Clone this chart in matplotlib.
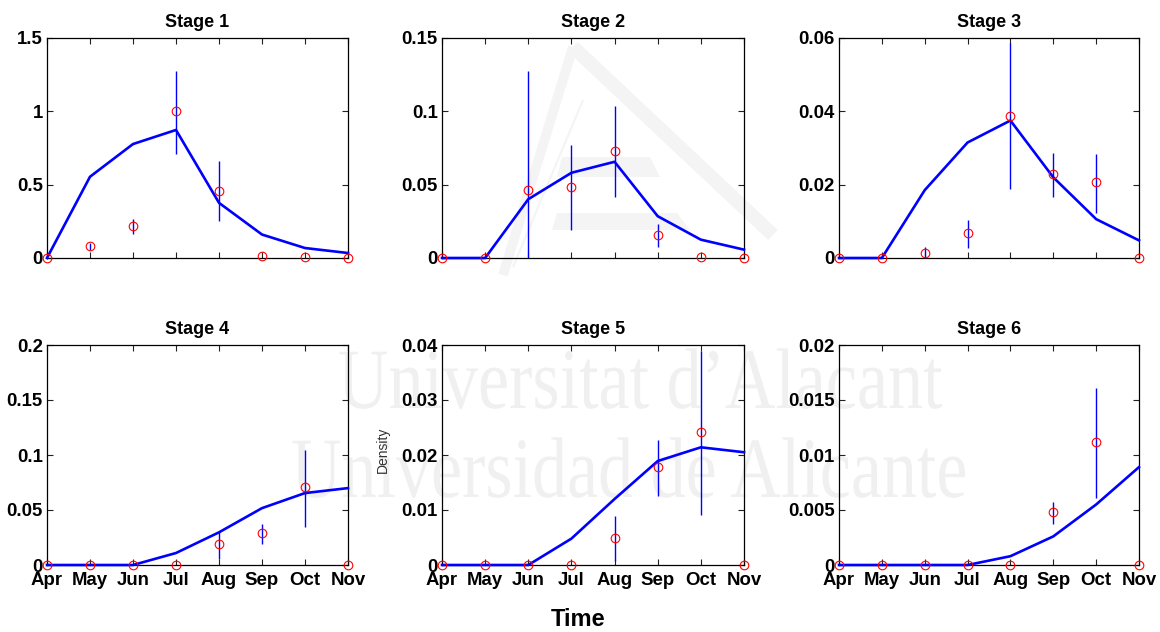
import numpy as np
import matplotlib
matplotlib.use("Agg")
import matplotlib.pyplot as plt
from matplotlib.textpath import TextPath
from matplotlib.patches import PathPatch, Polygon
from matplotlib.font_manager import FontProperties
from matplotlib.transforms import Affine2D
from matplotlib.lines import Line2D
from matplotlib.ticker import FormatStrFormatter

nan = np.nan
months = ["Apr", "May", "Jun", "Jul", "Aug", "Sep", "Oct", "Nov"]

stage1_model = [0, 0.554, 0.777, 0.873, 0.376, 0.160, 0.068, 0.034]
stage1_obs = [0, 0.08, 0.219, 1.0, 0.46, 0.011, 0.005, 0]
stage1_lo = [nan, 0.055, 0.166, 0.709, 0.253, nan, nan, nan]
stage1_hi = [nan, 0.100, 0.269, 1.277, 0.661, nan, nan, nan]

stage2_model = [0, 0, 0.0401, 0.0581, 0.0656, 0.0285, 0.0125, 0.0057]
stage2_obs = [0, 0, 0.0467, 0.0483, 0.0729, 0.016, 0.001, 0]
stage2_lo = [nan, nan, 0.0, 0.0189, 0.0417, 0.0075, nan, nan]
stage2_hi = [nan, nan, 0.1277, 0.0768, 0.1037, 0.023, nan, nan]

stage3_model = [0, 0, 0.0185, 0.0315, 0.0375, 0.022, 0.0106, 0.0048]
stage3_obs = [0, 0, 0.0013, 0.0067, 0.0388, 0.023, 0.0207, 0]
stage3_lo = [nan, nan, 0.0003, 0.0026, 0.0187, 0.0167, 0.0124, nan]
stage3_hi = [nan, nan, 0.0030, 0.0103, 0.0586, 0.0287, 0.0284, nan]

stage4_model = [0, 0, 0, 0.0109, 0.0297, 0.0517, 0.0654, 0.0699]
stage4_obs = [0, 0, 0, 0, 0.019, 0.029, 0.071, 0]
stage4_lo = [nan, nan, nan, nan, 0.0054, 0.019, 0.035, nan]
stage4_hi = [nan, nan, nan, nan, 0.0306, 0.0372, 0.105, nan]

stage5_model = [0, 0, 0, 0.0048, 0.012, 0.0189, 0.0214, 0.0205]
stage5_obs = [0, 0, 0, 0, 0.0049, 0.0178, 0.0241, 0]
stage5_lo = [nan, nan, nan, nan, 0.0008, 0.0126, 0.0091, nan]
stage5_hi = [nan, nan, nan, nan, 0.0090, 0.0228, 0.0390, nan]

stage6_model = [0, 0, 0, 0, 0.0008, 0.0026, 0.0055, 0.0089]
stage6_obs = [0, 0, 0, 0, 0, 0.0048, 0.0112, 0]
stage6_lo = [nan, nan, nan, nan, nan, 0.0037, 0.0061, nan]
stage6_hi = [nan, nan, nan, nan, nan, 0.0057, 0.0161, nan]

stage_titles = ["Stage 1", "Stage 2", "Stage 3", "Stage 4", "Stage 5", "Stage 6"]
y_max = [1.5, 0.15, 0.06, 0.2, 0.04, 0.02]
y_step = [0.5, 0.05, 0.02, 0.05, 0.01, 0.005]

stages = [
    (stage1_model, stage1_obs, stage1_lo, stage1_hi),
    (stage2_model, stage2_obs, stage2_lo, stage2_hi),
    (stage3_model, stage3_obs, stage3_lo, stage3_hi),
    (stage4_model, stage4_obs, stage4_lo, stage4_hi),
    (stage5_model, stage5_obs, stage5_lo, stage5_hi),
    (stage6_model, stage6_obs, stage6_lo, stage6_hi),
]

plt.rcParams["font.family"] = ["Liberation Sans", "DejaVu Sans"]

W, H = 1160, 632
fig = plt.figure(figsize=(W / 100, H / 100), dpi=100, facecolor="white")

# faint background watermark (university name and logo)
wm_color = "#f0f0f0"
serif = FontProperties(family="Liberation Serif", weight="normal")
for txt, x0, base in [("Universitat d\u2019Alacant", 338, 408),
                      ("Universidad de Alicante", 291, 497)]:
    tp = TextPath((0, 0), txt, size=1, prop=serif)
    tr = Affine2D().scale(70 / W, 86 / H).translate(x0 / W, 1 - base / H) + fig.transFigure
    fig.add_artist(PathPatch(tp, transform=tr, facecolor=wm_color,
                             edgecolor="none", zorder=-2))

logo_color = "#f4f4f4"


def px_line(p0, p1, lw):
    fig.add_artist(Line2D([p0[0] / W, p1[0] / W], [1 - p0[1] / H, 1 - p1[1] / H],
                          transform=fig.transFigure, color=logo_color, lw=lw,
                          solid_capstyle="butt", zorder=-2))


px_line((573, 47), (773, 235), 10)
px_line((573, 47), (503, 275), 7)
px_line((583, 100), (513, 267), 1.5)
for pts in [[(557, 213), (677, 213), (690, 230), (552, 230)],
            [(562, 157), (650, 157), (660, 177), (557, 177)]]:
    fig.add_artist(Polygon([(x / W, 1 - y / H) for x, y in pts], closed=True,
                           transform=fig.transFigure, facecolor=logo_color,
                           edgecolor="none", zorder=-2))

lefts = [47, 442, 839]
widths = [301, 302, 300]
tops = [38, 345]
ax_h = 220

x = np.arange(len(months))
for i, (model, obs, lo, hi) in enumerate(stages):
    r, c = divmod(i, 3)
    ax = fig.add_axes([lefts[c] / W, 1 - (tops[r] + ax_h) / H, widths[c] / W, ax_h / H])
    ax.set_facecolor("none")

    lo_a = np.array(lo, float)
    hi_a = np.array(hi, float)
    has = ~np.isnan(lo_a)
    ax.vlines(x[has], lo_a[has], hi_a[has], color="#0000ff", lw=1.0, zorder=2)
    ax.plot(x, model, color="#0000ff", lw=1.9, zorder=3, clip_on=False)
    ax.plot(x, obs, linestyle="none", marker="o", ms=6.2, mfc="none",
            mec="#ff0000", mew=0.8, zorder=4, clip_on=False)

    ax.set_xlim(0, 7)
    ax.set_ylim(0, y_max[i])
    ax.set_yticks(np.arange(0, y_max[i] + y_step[i] / 2, y_step[i]))
    ax.yaxis.set_major_formatter(FormatStrFormatter("%g"))
    ax.set_xticks(x)
    if r == 1:
        ax.set_xticklabels(months)
    else:
        ax.set_xticklabels([])
    ax.tick_params(direction="in", length=4, width=0.8, top=True, right=True,
                   labelsize=13.4, pad=3, color="#222222")
    ax.tick_params(axis="x", pad=5)
    for lab in ax.get_xticklabels() + ax.get_yticklabels():
        lab.set_fontweight("bold")
    for sp in ax.spines.values():
        sp.set_linewidth(0.9)
    ax.set_title(stage_titles[i], fontsize=13, fontweight="bold", pad=8)

fig.text(578 / W, 1 - 619 / H, "Time", ha="center", va="center",
         fontsize=17, fontweight="bold")
fig.text(383 / W, 1 - 450 / H, "Density", ha="center", va="center",
         rotation=90, fontsize=10, fontweight="normal", color="#333333")

fig.savefig("out.png", dpi=100, facecolor="white")
